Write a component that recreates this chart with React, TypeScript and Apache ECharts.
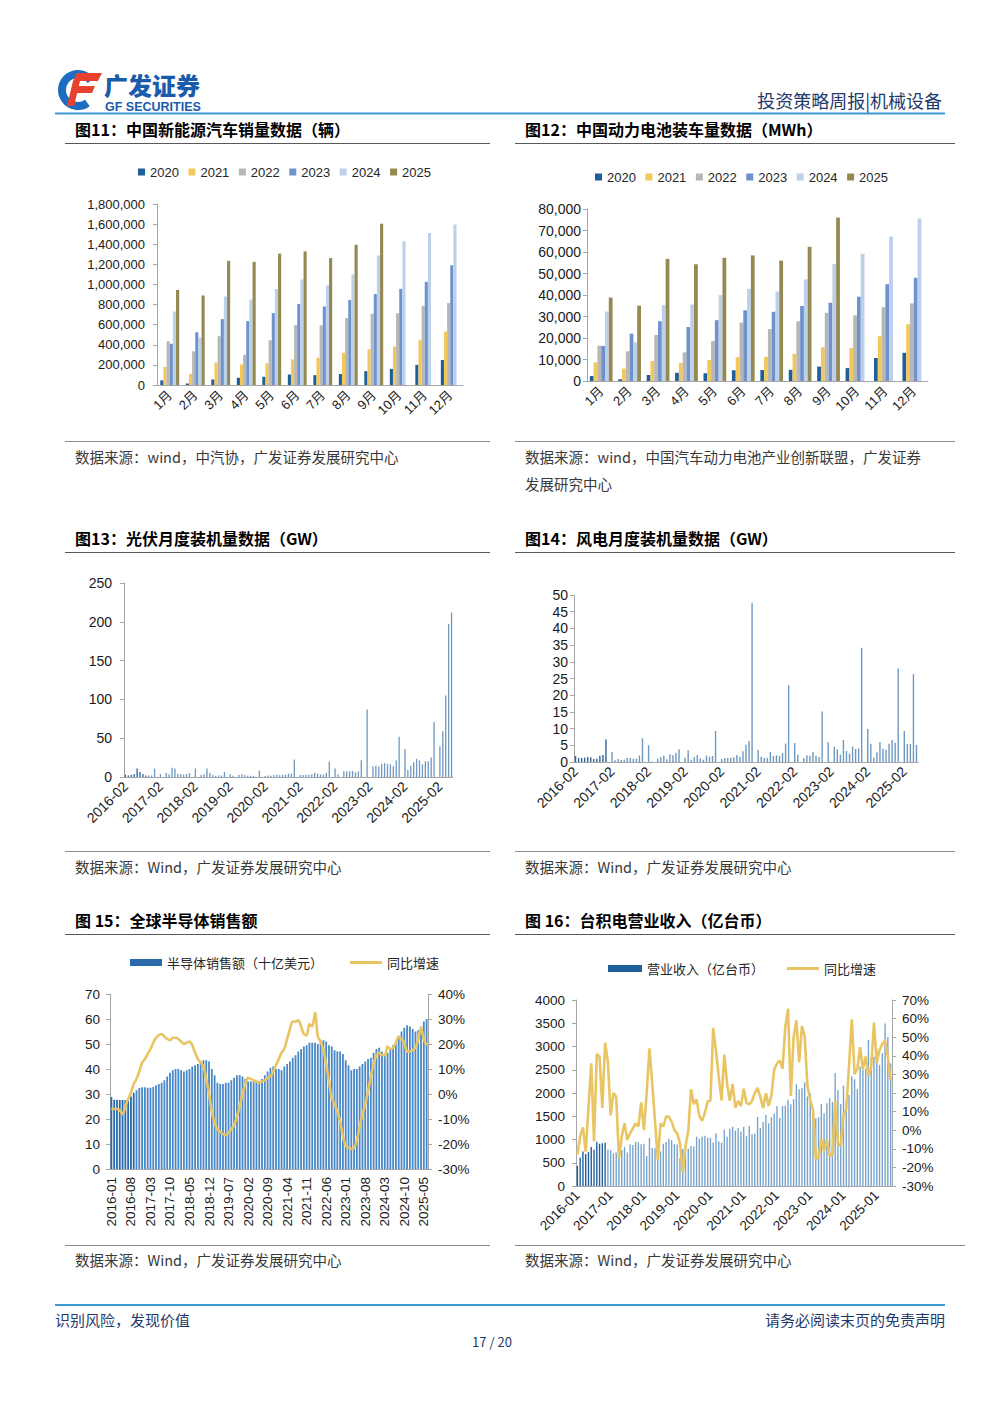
import React, { useEffect, useRef } from "react";
import * as echarts from "echarts";

// ---------- Chart 11: 中国新能源汽车销量（辆） ----------
const MONTHS = ["1月", "2月", "3月", "4月", "5月", "6月", "7月", "8月", "9月", "10月", "11月", "12月"];
const YEARS = ["2020", "2021", "2022", "2023", "2024", "2025"];
const YEAR_COLORS = ["#1f5f99", "#f2c75c", "#b7b7b7", "#6f92cc", "#bdd0ea", "#948953"];

const NEV_2020 = [46000, 15000, 55000, 72000, 82000, 104000, 98000, 109000, 138000, 160000, 200000, 248000];
const NEV_2021 = [180000, 110000, 225000, 205000, 217000, 256000, 271000, 321000, 357000, 383000, 450000, 531000];
const NEV_2022 = [435000, 335000, 485000, 300000, 445000, 596000, 593000, 666000, 708000, 714000, 786000, 815000];
const NEV_2023 = [410000, 525000, 655000, 635000, 715000, 806000, 781000, 846000, 904000, 956000, 1026000, 1191000];
const NEV_2024 = [730000, 470000, 880000, 850000, 955000, 1049000, 991000, 1100000, 1287000, 1430000, 1512000, 1596000];
const NEV_2025 = [945000, 890000, 1235000, 1225000, 1307000, 1329000, 1262000, 1395000, 1604000, null, null, null];

// ---------- Chart 12: 中国动力电池装车量（MWh） ----------
const BAT_2020 = [2300, 800, 2800, 3800, 3600, 5000, 5100, 5200, 6700, 6000, 10700, 13100];
const BAT_2021 = [8700, 5800, 9300, 8400, 9800, 11100, 11300, 12600, 15700, 15400, 20800, 26400];
const BAT_2022 = [16400, 13800, 21400, 13300, 18600, 27200, 24200, 27800, 31700, 30500, 34300, 36100];
const BAT_2023 = [16300, 22000, 27800, 25100, 28300, 32900, 32200, 34900, 36400, 39200, 45000, 48000];
const BAT_2024 = [32300, 18000, 35300, 35600, 39900, 42900, 41600, 47300, 54500, 59200, 67200, 75600];
const BAT_2025 = [38800, 35000, 56800, 54300, 57300, 58400, 56000, 62500, 76000, null, null, null];

// ---------- Chart 13: 光伏月度装机（GW），2016-02 起 ----------
const PV_GW = [
  3, 2, 2.5, 4, 10.8, 6.5, 4, 2, 2, 2, 10.8, null,
  4, null, 5.6, 3.4, 12, 11, 4, 4, 3, 4, 5, null,
  11, null, 2.5, 3.4, 10.8, 5, 2.5, 1.7, 2, 2, 6.5, null,
  3.4, 1.7, null, 2.5, 3.4, 2.5, 1.7, 1.7, 1.3, null, 8.2, null,
  1.3, 2, 1.7, 2.5, 3, 2.5, 2.5, 3, 4.3, 4.3, 22.4, null,
  2.5, 2.5, 2.5, 3, 3.4, 5.2, 4.3, 3.4, 3, 5.6, 19.8, null,
  10.8, 3.4, null, 7.3, 7.3, 7.3, 7.8, 6, 7.3, 21.5, null, 87,
  null, 13.8, 14.6, 13.4, 16.8, 18, 16.8, 16.4, 13.8, 21.5, 52, null,
  36, 9, 14.6, 19, 23.3, 21.5, 16.4, 20.3, 20.3, 25, 71, null,
  39.7, 59, 105, 197, 212,
];

// ---------- Chart 14: 风电月度装机（GW），2016-02 起 ----------
const WIND_GW = [
  1.8, 1.2, 1.2, 1.3, 1.5, 1.4, 0.9, 1.0, 1.9, 2.1, 6.7, null,
  3.0, 0.5, 0.9, 0.6, 0.7, 1.2, 1.2, 1.0, 1.0, 1.9, 7.1, null,
  5.0, 0.2, null, 1.0, 1.4, 1.9, 0.8, 2.3, 2.0, 2.8, 3.8, null,
  1.3, 3.5, 0.7, 1.5, 2.1, 1.1, 0.7, 1.9, 1.6, 1.8, 9.3, null,
  0.9, 1.2, 1.2, 1.3, 1.4, 2.1, 1.6, 3.2, 5.2, 6.3, 47.5, null,
  3.6, 1.6, 1.2, 1.2, 3.0, 1.8, 2.0, 1.8, 2.7, 5.5, 23, null,
  5.7, 2.2, null, 1.2, 2.0, 1.9, 3.0, 1.9, 1.5, 15.1, null, 5.9,
  null, 4.6, 3.8, 2.2, 6.6, 3.3, 2.5, 4.6, 3.9, 4.1, 34.2, null,
  9.9, 5.5, 1.3, 2.9, 6.0, 4.0, 3.7, 5.5, 6.6, 5.8, 28.0, null,
  9.3, 5.4, 5.4, 26.3, 5.1,
];

// ---------- Chart 15: 全球半导体销售额（十亿美元），2016-01 起 ----------
const SEMI_SALES = [
  28.8, 27.7, 27.7, 27.6, 27.6, 27.5, 28.0, 29.0, 30.5, 31.5, 32.4, 32.7,
  32.7, 32.5, 32.5, 32.8, 33.5, 34.0, 34.5, 35.5, 37.0, 38.5, 39.5, 40.0,
  40.0, 39.5, 39.0, 39.5, 40.0, 41.0, 41.5, 42.0, 43.0, 43.5, 43.5, 43.0,
  40.0, 37.5, 34.5, 34.0, 34.0, 34.5, 34.5, 35.5, 36.5, 37.5, 37.5, 37.0,
  36.0, 35.0, 35.0, 35.0, 35.0, 35.0, 36.0, 37.5, 39.0, 40.5, 41.0, 40.0,
  40.0, 39.5, 41.0, 42.0, 43.0, 44.5, 45.5, 47.0, 48.0, 49.0, 49.5, 50.5,
  50.5, 50.5, 50.0, 51.0, 51.5, 51.0, 49.5, 49.0, 47.5, 47.0, 47.0, 46.0,
  43.5, 41.5, 39.5, 40.0, 40.0, 41.0, 42.0, 43.0, 44.0, 44.5, 46.5, 48.0,
  48.5, 47.0, 45.5, 46.5, 48.0, 49.5, 51.0, 53.0, 55.0, 56.5, 57.5, 57.0,
  56.0, 55.0, 55.5, 57.0, 59.0, 60.0,
];
const SEMI_YOY = [
  -6, -6, -6, -6.5, -8, -5, -2, 0.5, 4, 6, 9, 12.5,
  14, 16, 18, 20.5, 22.5, 23.5, 24, 23, 22, 21.5, 22.5, 22.5,
  22, 21, 20, 20.5, 21, 19.5, 16.5, 14, 12.5, 11, 6, 0,
  -7, -11.5, -14, -15, -16, -16.5, -15.5, -14, -12.5, -9, -5, 0,
  4, 6.5, 6, 5.5, 5, 4.5, 5, 5.5, 6.5, 7, 9, 11.5,
  14, 16.5, 18, 22, 26, 29, 29, 29.5, 27, 24, 23.5, 28,
  27, 32.5, 23, 21, 17.5, 12, 5, -1.5, -4, -7, -11, -17,
  -20.5, -21.5, -22, -21.5, -18.5, -13, -8, -4, 1, 7, 12, 15.5,
  16.5, 15.5, 15.5, 19, 18, 18.5, 20.5, 23, 22, 20.5, 17, 17,
  17.5, 18.5, 22, 26.5, 22, 19.5,
];

// ---------- Chart 16: 台积电营业收入（亿台币），2016-01 起 ----------
const TSMC_REV = [
  430, 610, 740, 690, 730, 840, 780, 950, 910, 920, 930, 780,
  770, 700, 720, 650, 770, 840, 720, 890, 880, 950, 940, 900,
  910, 646, 1035, 818, 810, 703, 743, 911, 948, 1015, 985, 899,
  895, 601, 795, 747, 806, 859, 847, 1061, 1021, 1065, 1078, 1039,
  1036, 933, 1135, 960, 935, 1209, 1058, 1229, 1275, 1193, 1248, 1173,
  1267, 1069, 1293, 1111, 1122, 1485, 1247, 1375, 1527, 1348, 1481, 1554,
  1722, 1469, 1719, 1727, 1854, 1758, 1868, 2188, 2082, 2103, 2228, 1926,
  2000, 1631, 1454, 1479, 1766, 1564, 1777, 1889, 1804, 2432, 2060, 1763,
  2157, 1816, 1955, 2360, 2296, 2079, 2570, 2508, 2518, 3143, 2761, 2781,
  2933, 2600, 2860, 3496, 3206, 2637,
];
const TSMC_YOY = [
  -13, -3.5, 1.5, -11.5, 12, 36, -6, 41, 39.5, 12, 47, 37,
  8, 20, 18, -15, -3.5, 3.7, -5.3, -1.7, 1, 3.7, 2, 15,
  0, 20, 44, 25, 5, -16, 3.7, 2, 7.3, 7.3, 4.6, 0,
  -1.7, -7, -23, -8.7, -0.5, 22, 14, 16.5, 7.7, 5, 9.4, 15.6,
  15.8, 55, 42.8, 28.5, 16, 40.7, 25, 15.8, 24.9, 12, 15.8, 12.9,
  22.3, 14.6, 13.9, 15.7, 20, 22.8, 17.9, 11.9, 19.8, 13, 18.7, 32.5,
  35.9, 37.4, 33, 55.4, 65.3, 18.4, 49.8, 59.1, 36.4, 56, 50.4, 23.9,
  16.2, 11, -15.4, -14.4, -4.7, -11.1, -4.9, -13.7, -13.4, 15.7, -7.5, -8.4,
  7.9, 11.3, 34.5, 59.6, 30.1, 32.9, 44.7, 32.8, 39.6, 29.2, 34, 57.8,
  36, 43.1, 46.3, 48.1, 39.6, 26.9,
];

function monthLabels(y0: number, m0: number, n: number): string[] {
  const out: string[] = [];
  let y = y0;
  let m = m0;
  for (let i = 0; i < n; i++) {
    out.push(`${y}-${m < 10 ? "0" + m : m}`);
    m++;
    if (m > 12) {
      m = 1;
      y++;
    }
  }
  return out;
}

const CAT_ENERGY = monthLabels(2016, 2, PV_GW.length);
const CAT_SEMI = monthLabels(2016, 1, SEMI_SALES.length);
const CAT_TSMC = monthLabels(2016, 1, TSMC_REV.length);

const NUM_FONT = '"Liberation Sans", Arial, "Noto Sans CJK SC", sans-serif';
const CJK_FONT = '"Noto Sans CJK SC", "Liberation Sans", sans-serif';
const AXIS_COLOR = "#a6a6a6";
const LABEL_COLOR = "#1a1a1a";
const NAVY = "#1f3a6a";
const YELLOW = "#e8c462";

function withCommas(v: number): string {
  return String(v).replace(/\B(?=(\d{3})+(?!\d))/g, ",");
}
function plain(v: number): string {
  return String(v);
}

function catAxis(gridIndex: number, data: string[], extra: any) {
  return {
    type: "category",
    gridIndex,
    data,
    axisLine: { show: true, lineStyle: { color: AXIS_COLOR } },
    axisTick: { show: false },
    splitLine: { show: false },
    axisLabel: {
      color: LABEL_COLOR,
      fontFamily: NUM_FONT,
      ...extra,
    },
  };
}

function valAxis(gridIndex: number, min: number, max: number, interval: number, label: any, position?: string) {
  return {
    type: "value",
    gridIndex,
    min,
    max,
    interval,
    position: position || "left",
    axisLine: { show: true, lineStyle: { color: AXIS_COLOR } },
    axisTick: { show: true, length: 4, lineStyle: { color: AXIS_COLOR } },
    splitLine: { show: false },
    axisLabel: { color: LABEL_COLOR, fontFamily: NUM_FONT, ...label },
  };
}

function text(x: number, y: number, t: string, size: number, opts: any = {}) {
  return {
    type: "text",
    x,
    y,
    silent: true,
    style: {
      text: t,
      fontSize: size,
      fontFamily: CJK_FONT,
      fontWeight: opts.bold ? "bold" : "normal",
      fill: opts.fill || "#3a3a3a",
      align: opts.align || "left",
      verticalAlign: "middle",
    },
  };
}

function hline(x1: number, x2: number, y: number, stroke: string, w: number) {
  return {
    type: "line",
    silent: true,
    shape: { x1, y1: y, x2, y2: y },
    style: { stroke, lineWidth: w },
  };
}

function buildOption() {
  const nev = [NEV_2020, NEV_2021, NEV_2022, NEV_2023, NEV_2024, NEV_2025];
  const bat = [BAT_2020, BAT_2021, BAT_2022, BAT_2023, BAT_2024, BAT_2025];

  const series: any[] = [];
  YEARS.forEach((y, i) => {
    series.push({
      name: y,
      type: "bar",
      xAxisIndex: 0,
      yAxisIndex: 0,
      data: nev[i],
      barGap: "0%",
      barCategoryGap: "26%",
      itemStyle: { color: YEAR_COLORS[i] },
    });
  });
  YEARS.forEach((y, i) => {
    series.push({
      name: y,
      type: "bar",
      xAxisIndex: 1,
      yAxisIndex: 1,
      data: bat[i],
      barGap: "0%",
      barCategoryGap: "20%",
      itemStyle: { color: YEAR_COLORS[i] },
    });
  });

  const ENERGY_DARK = "#2f6496";
  const ENERGY_LIGHT = "#6e98bf";
  series.push({
    name: "光伏新增装机（GW）",
    type: "bar",
    xAxisIndex: 2,
    yAxisIndex: 2,
    barWidth: 1.3,
    itemStyle: { color: ENERGY_LIGHT },
    data: PV_GW.map((v, i) => (i < 8 ? { value: v, itemStyle: { color: ENERGY_DARK } } : v)),
  });
  series.push({
    name: "风电新增装机（GW）",
    type: "bar",
    xAxisIndex: 3,
    yAxisIndex: 3,
    barWidth: 1.4,
    itemStyle: { color: ENERGY_LIGHT },
    data: WIND_GW.map((v, i) => (i < 11 ? { value: v, itemStyle: { color: ENERGY_DARK } } : v)),
  });

  series.push({
    name: "半导体销售额（十亿美元）",
    type: "bar",
    xAxisIndex: 4,
    yAxisIndex: 4,
    barCategoryGap: "35%",
    itemStyle: { color: "#2a6aab" },
    data: SEMI_SALES.map((v, i) => (i < 9 ? v : { value: v, itemStyle: { color: "#4a88c6" } })),
  });
  series.push({
    name: "同比增速",
    type: "line",
    xAxisIndex: 4,
    yAxisIndex: 5,
    data: SEMI_YOY,
    smooth: 0.3,
    showSymbol: false,
    lineStyle: { color: YELLOW, width: 2.6 },
    itemStyle: { color: YELLOW },
    z: 5,
  });

  series.push({
    name: "营业收入（亿台币）",
    type: "bar",
    xAxisIndex: 5,
    yAxisIndex: 6,
    barCategoryGap: "50%",
    itemStyle: { color: "#1f5f9c" },
    data: TSMC_REV.map((v, i) => (i < 11 ? v : { value: v, itemStyle: { color: "#77a3cb" } })),
  });
  series.push({
    name: "同比增速",
    type: "line",
    xAxisIndex: 5,
    yAxisIndex: 7,
    data: TSMC_YOY,
    showSymbol: false,
    lineStyle: { color: YELLOW, width: 2.6 },
    itemStyle: { color: YELLOW },
    z: 5,
  });

  const legendText = { fontSize: 13, color: "#262626", fontFamily: NUM_FONT };

  const graphic: any[] = [
    // logo
    {
      type: "arc",
      silent: true,
      shape: { cx: 78, cy: 90, r: 16, startAngle: Math.PI * 0.3, endAngle: Math.PI * 1.8, clockwise: true },
      style: { stroke: "#1e6cc0", lineWidth: 8, fill: null },
    },
    { type: "polygon", silent: true, shape: { points: [[77, 73], [102, 73], [98, 81], [73, 81]] }, style: { fill: "#e8412f" } },
    { type: "polygon", silent: true, shape: { points: [[74, 86], [95, 86], [92, 93], [71, 93]] }, style: { fill: "#e8412f" } },
    { type: "polygon", silent: true, shape: { points: [[73, 81], [80, 81], [74, 106], [67, 106]] }, style: { fill: "#e8412f" } },
    {
      type: "text",
      x: 104,
      y: 84,
      silent: true,
      style: { text: "广发证券", fontSize: 24, fontWeight: 900, fontFamily: CJK_FONT, fill: "#1b5bab", verticalAlign: "middle" },
    },
    {
      type: "text",
      x: 105,
      y: 107,
      silent: true,
      style: { text: "GF SECURITIES", fontSize: 12.5, fontWeight: "bold", fontFamily: NUM_FONT, fill: "#1b5bab", verticalAlign: "middle" },
    },
    text(942, 100, "投资策略周报|机械设备", 18, { align: "right", fill: NAVY }),
    hline(55, 945, 113.5, "#3d98d8", 2),

    // titles
    text(75, 129, "图11：中国新能源汽车销量数据（辆）", 16, { bold: true, fill: "#000" }),
    text(525, 129, "图12：中国动力电池装车量数据（MWh）", 16, { bold: true, fill: "#000" }),
    hline(65, 490, 143.5, "#595959", 1.2),
    hline(515, 955, 143.5, "#595959", 1.2),

    hline(65, 490, 441.5, "#8c8c8c", 1),
    hline(515, 955, 441.5, "#8c8c8c", 1),
    text(75, 456, "数据来源：wind，中汽协，广发证券发展研究中心", 14.5),
    text(525, 456, "数据来源：wind，中国汽车动力电池产业创新联盟，广发证券", 14.5),
    text(525, 483, "发展研究中心", 14.5),

    text(75, 538, "图13：光伏月度装机量数据（GW）", 16, { bold: true, fill: "#000" }),
    text(525, 538, "图14：风电月度装机量数据（GW）", 16, { bold: true, fill: "#000" }),
    hline(65, 490, 552.5, "#595959", 1.2),
    hline(515, 955, 552.5, "#595959", 1.2),

    hline(65, 490, 851.5, "#8c8c8c", 1),
    hline(515, 955, 851.5, "#8c8c8c", 1),
    text(75, 866, "数据来源：Wind，广发证券发展研究中心", 14.5),
    text(525, 866, "数据来源：Wind，广发证券发展研究中心", 14.5),

    text(75, 920, "图 15：全球半导体销售额", 16, { bold: true, fill: "#000" }),
    text(525, 920, "图 16：台积电营业收入（亿台币）", 16, { bold: true, fill: "#000" }),
    hline(65, 490, 934.5, "#595959", 1.2),
    hline(515, 955, 934.5, "#595959", 1.2),

    hline(65, 490, 1245.5, "#8c8c8c", 1),
    hline(515, 965, 1245.5, "#8c8c8c", 1),
    text(75, 1259, "数据来源：Wind，广发证券发展研究中心", 14.5),
    text(525, 1259, "数据来源：Wind，广发证券发展研究中心", 14.5),

    // footer
    hline(55, 945, 1305, "#3d98d8", 2),
    text(55, 1319, "识别风险，发现价值", 15, { fill: NAVY }),
    text(945, 1319, "请务必阅读末页的免责声明", 15, { fill: NAVY, align: "right" }),
    text(492, 1341, "17 / 20", 13, { fill: NAVY, align: "center" }),
  ];

  return {
    animation: false,
    backgroundColor: "#ffffff",
    textStyle: { fontFamily: NUM_FONT },
    grid: [
      { left: 157, top: 204, width: 306, height: 181 },
      { left: 587, top: 209, width: 341, height: 172 },
      { left: 124, top: 583, width: 329, height: 194 },
      { left: 574, top: 595, width: 344, height: 167 },
      { left: 110, top: 994, width: 318, height: 175 },
      { left: 576, top: 1000, width: 316, height: 186 },
    ],
    legend: [
      {
        data: YEARS,
        left: 133,
        top: 160.5,
        icon: "rect",
        itemWidth: 7,
        itemHeight: 7,
        itemGap: 9.5,
        textStyle: legendText,
        selectedMode: false,
      },
      {
        data: YEARS,
        left: 590,
        top: 165.5,
        icon: "rect",
        itemWidth: 7,
        itemHeight: 7,
        itemGap: 9.5,
        textStyle: legendText,
        selectedMode: false,
      },
      {
        data: ["半导体销售额（十亿美元）"],
        left: 125,
        top: 951,
        icon: "rect",
        itemWidth: 32,
        itemHeight: 7,
        textStyle: { ...legendText, fontFamily: CJK_FONT },
        selectedMode: false,
      },
      {
        data: ["同比增速"],
        left: 345,
        top: 951,
        icon: "rect",
        itemWidth: 32,
        itemHeight: 3,
        textStyle: { ...legendText, fontFamily: CJK_FONT },
        selectedMode: false,
      },
      {
        data: ["营业收入（亿台币）"],
        left: 603,
        top: 957,
        icon: "rect",
        itemWidth: 34,
        itemHeight: 7,
        textStyle: { ...legendText, fontFamily: CJK_FONT },
        selectedMode: false,
      },
      {
        data: ["同比增速"],
        left: 782,
        top: 957,
        icon: "rect",
        itemWidth: 32,
        itemHeight: 3,
        textStyle: { ...legendText, fontFamily: CJK_FONT },
        selectedMode: false,
      },
    ],
    xAxis: [
      catAxis(0, MONTHS, { rotate: 45, fontSize: 13, margin: 8, interval: 0 }),
      catAxis(1, MONTHS, { rotate: 45, fontSize: 13, margin: 8, interval: 0 }),
      catAxis(2, CAT_ENERGY, { rotate: 45, fontSize: 14, margin: 7, interval: 11 }),
      catAxis(3, CAT_ENERGY, { rotate: 45, fontSize: 14, margin: 7, interval: 11 }),
      catAxis(4, CAT_SEMI, { rotate: 90, fontSize: 13.5, margin: 8, interval: 6 }),
      catAxis(5, CAT_TSMC, { rotate: 45, fontSize: 13.5, margin: 7, interval: 11 }),
    ],
    yAxis: [
      valAxis(0, 0, 1800000, 200000, { fontSize: 13, margin: 12, formatter: withCommas }),
      valAxis(1, 0, 80000, 10000, { fontSize: 14, margin: 6, formatter: withCommas }),
      valAxis(2, 0, 250, 50, { fontSize: 14, margin: 12, formatter: plain }),
      valAxis(3, 0, 50, 5, { fontSize: 14, margin: 6, formatter: plain }),
      valAxis(4, 0, 70, 10, { fontSize: 13.5, margin: 10, formatter: plain }),
      valAxis(4, -30, 40, 10, { fontSize: 13.5, margin: 10, formatter: "{value}%" }, "right"),
      valAxis(5, 0, 4000, 500, { fontSize: 13.5, margin: 11, formatter: plain }),
      valAxis(5, -30, 70, 10, { fontSize: 13.5, margin: 10, formatter: "{value}%" }, "right"),
    ],
    series,
    graphic,
  };
}

export default function App() {
  const ref = useRef<HTMLDivElement>(null);
  useEffect(() => {
    if (!ref.current) return;
    const chart = echarts.init(ref.current, undefined, { renderer: "svg" });
    chart.setOption(buildOption() as any);
    return () => {
      chart.dispose();
    };
  }, []);
  return (
    <div
      ref={ref}
      style={{ position: "absolute", left: 0, top: 0, width: 1000, height: 1414, background: "#fff" }}
    />
  );
}
